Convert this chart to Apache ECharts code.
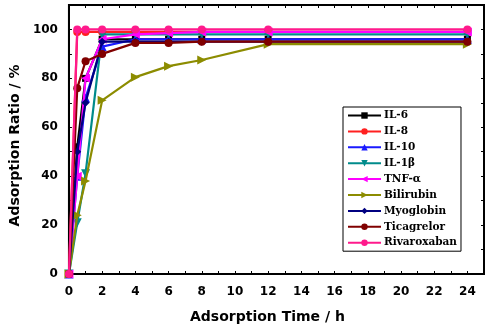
<!DOCTYPE html>
<html><head><meta charset="utf-8">
<script src="https://cdn.jsdelivr.net/npm/echarts@6/dist/echarts.min.js"></script>
<style>html,body{margin:0;padding:0;background:#fff}#c{width:492px;height:329px}</style>
</head><body><div id="c"></div>
<script>
const times = [0, 0.5, 1, 2, 4, 6, 8, 12, 24];
const seriesNames = ['IL-6','IL-8','IL-10','IL-1β','TNF-α','Bilirubin','Myoglobin','Ticagrelor','Rivaroxaban'];
const il6        = [0, 52, 80, 96, 96, 96, 96, 96, 96];
const il8        = [0, 99, 99, 99, 99, 99, 99, 99, 99];
const il10       = [0, 40, 72, 93, 96, 96, 96, 96, 96];
const il1b       = [0, 21, 41, 98, 98, 98, 98, 98, 98];
const tnfa       = [0, 40, 80, 96, 98, 98.5, 99, 99, 99];
const bilirubin  = [0, 24, 38, 71, 80.5, 85, 87.5, 94, 94];
const myoglobin  = [0, 50, 70, 95, 95, 95, 95, 95, 95];
const ticagrelor = [0, 76, 87, 90, 94.5, 94.5, 95, 95, 95];
const rivaroxaban= [0, 100, 100, 100, 100, 100, 100, 100, 100];
const values = [il6, il8, il10, il1b, tnfa, bilirubin, myoglobin, ticagrelor, rivaroxaban];
const colors = ['#000000','#ff2020','#1a1aff','#008b8b','#ff00ff','#8c8c00','#000080','#800000','#ff1a8c'];
const symbols = ['rect','circle','triangle','triangle','triangle','triangle','diamond','circle','circle'];
const rotations = [0,0,0,180,90,-90,0,0,0];
const xTickLabels = [0,2,4,6,8,10,12,14,16,18,20,22,24];
const yTickLabels = [0,20,40,60,80,100];

const chart = echarts.init(document.getElementById('c'));
const series = seriesNames.map((n,i)=>({
  name:n, type:'line', xAxisIndex:0, yAxisIndex:0,
  data: times.map((t,j)=>[t, values[i][j]]),
  symbol: symbols[i], symbolRotate: rotations[i],
  symbolSize: symbols[i]==='triangle' ? 9 : (symbols[i]==='rect' ? 7 : 8),
  lineStyle:{color:colors[i], width:2.2},
  itemStyle:{color:colors[i]},
  z: 2+i
}));
const labelFont = {fontFamily:'DejaVu Sans', fontWeight:'bold', fontSize:12, color:'#000'};
chart.setOption({
  animation:false,
  grid:{left:63, right:8, top:5, bottom:55, show:true, borderColor:'#000', borderWidth:2, backgroundColor:'transparent'},
  legend:{
    orient:'vertical', left:343, top:107,
    borderColor:'#000', borderWidth:1, padding:[3,4,3,4],
    itemWidth:33, itemHeight:8, itemGap:4.9,
    textStyle:{fontFamily:'DejaVu Serif', fontWeight:'bold', fontSize:10.5, color:'#000', padding:[0,0,0,-2]},
    data: seriesNames
  },
  xAxis:[{
    type:'value', min:0, max:25, interval:1,
    name:'Adsorption Time / h', nameLocation:'middle', nameGap:36,
    nameTextStyle:{fontFamily:'DejaVu Sans', fontWeight:'bold', fontSize:14, color:'#000', padding:[0,18,0,0]},
    axisLine:{show:true, onZero:false, lineStyle:{color:'#000', width:2}},
    axisTick:{show:true, inside:true, length:3, lineStyle:{color:'#000'}},
    splitLine:{show:false},
    axisLabel:Object.assign({margin:12, formatter:v=> xTickLabels.indexOf(v)>=0 ? String(v) : ''}, labelFont)
  },{
    type:'value', min:0, max:25, interval:1, position:'top',
    axisLine:{show:true, onZero:false, lineStyle:{color:'#000', width:2}},
    axisTick:{show:true, inside:true, length:3, lineStyle:{color:'#000'}},
    axisLabel:{show:false}, splitLine:{show:false}
  }],
  yAxis:[{
    type:'value', min:0, max:110, interval:10,
    name:'Adsorption Ratio / %', nameLocation:'middle', nameGap:42,
    nameTextStyle:{fontFamily:'DejaVu Sans', fontWeight:'bold', fontSize:14, color:'#000', padding:[0,12,0,0]},
    axisLine:{show:true, onZero:false, lineStyle:{color:'#000', width:2}},
    axisTick:{show:true, inside:true, length:3, lineStyle:{color:'#000'}},
    splitLine:{show:false},
    axisLabel:Object.assign({margin:11, formatter:v=> yTickLabels.indexOf(v)>=0 ? String(v) : ''}, labelFont)
  },{
    type:'value', min:0, max:110, interval:10, position:'right',
    axisLine:{show:true, onZero:false, lineStyle:{color:'#000', width:2}},
    axisTick:{show:true, inside:true, length:3, lineStyle:{color:'#000'}},
    axisLabel:{show:false}, splitLine:{show:false}
  }],
  series: series
});
</script></body></html>
